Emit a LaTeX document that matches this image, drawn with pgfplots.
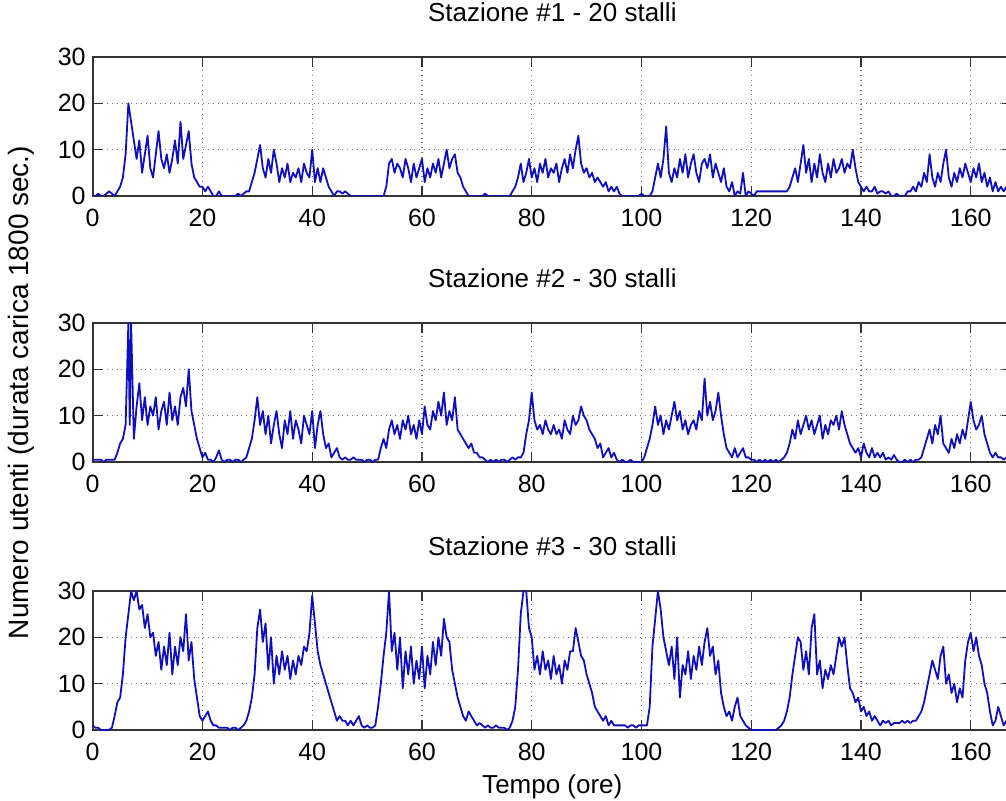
\documentclass[border=0pt]{standalone}
\usepackage{fontspec}
\setmainfont{Liberation Sans}
\usepackage{pgfplots}
\pgfplotsset{compat=1.18}
\pgfplotsset{
 stz/.style={
  scale only axis, width=459.6pt, height=69.5pt,
  xmin=0, xmax=167.5, ymin=0, ymax=30,
  xtick={0,20,...,160}, ytick={0,10,20,30},
  tick align=inside, tick pos=both, major tick length=5pt,
  grid=major, grid style={dotted, black!55, line width=0.6pt},
  axis line style={black!80, line width=0.9pt},
  every tick/.style={black!80, line width=0.6pt},
  tick label style={font=\fontsize{12.5}{15}\selectfont},
  /pgf/number format/assume math mode=true,
  xticklabel style={yshift=-3pt},
  title style={font=\fontsize{13}{15}\selectfont, at={(axis description cs:0.5,1.1655)}, anchor=base},
  anchor=north west,
 },
 ser/.style={color={rgb,255:red,15;green,15;blue,190}, line width=0.9pt, mark=none, line join=round}
}
\begin{document}
\begin{tikzpicture}
\begin{axis}[stz, at={(0,0)}, title={Stazione \#1 - 20 stalli}]
\addplot[ser] coordinates {
(0,0)(0.5,0)(1,0.5)(1.5,0)(2,0)(2.5,0.5)(3,1)(3.5,0.5)(4,0)(4.5,1)(5,2)(5.5,4)(6,9)(6.5,20)(7,16)(7.5,12)(8,8)(8.5,12)(9,5)(9.5,9)(10,13)(10.5,6)(11,4)(11.5,9)(12,14)(12.5,8)(13,6)(13.5,9)(14,5)(14.5,8)(15,12)(15.5,7)(16,16)(16.5,8)(17,11)(17.5,14)(18,7)(18.5,4)(19,3)(19.5,2)(20,2)(20.5,1)(21,2)(21.5,1)(22,0)(22.5,0)(23,1)(23.5,0)
(24,0)(24.5,0)(25,0)(25.5,0)(26,0)(26.5,0.5)(27,0)(27.5,0.5)(28,1)(28.5,1)(29,3)(29.5,5)(30,8)(30.5,11)(31,6)(31.5,4)(32,8)(32.5,5)(33,10)(33.5,7)(34,3)(34.5,6)(35,4)(35.5,7)(36,3)(36.5,5)(37,4)(37.5,6)(38,3)(38.5,7)(39,5)(39.5,4)(40,10)(40.5,3)(41,6)(41.5,3)(42,6)(42.5,4)(43,2)(43.5,1)(44,0)(44.5,1)(45,1)(45.5,0.5)(46,1)(46.5,0.5)(47,0)(47.5,0)
(48,0)(48.5,0)(49,0)(49.5,0)(50,0)(50.5,0)(51,0)(51.5,0)(52,0)(52.5,0)(53,0)(53.5,2)(54,7)(54.5,8)(55,5)(55.5,7)(56,6)(56.5,4)(57,8)(57.5,6)(58,3)(58.5,7)(59,4)(59.5,6)(60,8)(60.5,3)(61,6)(61.5,4)(62,7)(62.5,5)(63,8)(63.5,4)(64,7)(64.5,10)(65,6)(65.5,8)(66,9)(66.5,5)(67,4)(67.5,2)(68,1)(68.5,0)(69,0)(69.5,0)(70,0)(70.5,0)(71,0)(71.5,0.5)
(72,0)(72.5,0)(73,0)(73.5,0)(74,0)(74.5,0)(75,0)(75.5,0)(76,0)(76.5,1)(77,2)(77.5,4)(78,7)(78.5,3)(79,5)(79.5,8)(80,4)(80.5,6)(81,3)(81.5,7)(82,5)(82.5,8)(83,4)(83.5,6)(84,5)(84.5,7)(85,3)(85.5,6)(86,8)(86.5,5)(87,9)(87.5,6)(88,10)(88.5,13)(89,7)(89.5,5)(90,6)(90.5,4)(91,5)(91.5,3)(92,4)(92.5,3)(93,2)(93.5,3)(94,1)(94.5,2)(95,1)(95.5,2)
(96,0.5)(96.5,0)(97,0)(97.5,0)(98,0)(98.5,0)(99,0)(99.5,0)(100,0.5)(100.5,0)(101,0)(101.5,0)(102,1)(102.5,4)(103,7)(103.5,4)(104,8)(104.5,15)(105,5)(105.5,3)(106,6)(106.5,4)(107,8)(107.5,5)(108,9)(108.5,4)(109,7)(109.5,9)(110,5)(110.5,3)(111,7)(111.5,8)(112,6)(112.5,9)(113,4)(113.5,7)(114,5)(114.5,3)(115,6)(115.5,2)(116,1)(116.5,3)(117,0)(117.5,1)(118,0.5)(118.5,5)(119,0)(119.5,1)
(120,0.5)(120.5,0)(121,1)(121.5,1)(122,1)(122.5,1)(123,1)(123.5,1)(124,1)(124.5,1)(125,1)(125.5,1)(126,1)(126.5,1)(127,2)(127.5,4)(128,6)(128.5,3)(129,7)(129.5,11)(130,5)(130.5,8)(131,3)(131.5,7)(132,4)(132.5,9)(133,5)(133.5,3)(134,7)(134.5,4)(135,8)(135.5,5)(136,6)(136.5,8)(137,5)(137.5,7)(138,6)(138.5,10)(139,6)(139.5,3)(140,2)(140.5,1)(141,2)(141.5,1)(142,1)(142.5,2)(143,0.5)(143.5,1)
(144,1)(144.5,0.5)(145,1)(145.5,0)(146,0)(146.5,0.5)(147,0)(147.5,0)(148,0)(148.5,1)(149,1)(149.5,2)(150,1)(150.5,3)(151,2)(151.5,5)(152,3)(152.5,9)(153,4)(153.5,2)(154,5)(154.5,3)(155,7)(155.5,10)(156,4)(156.5,2)(157,5)(157.5,3)(158,6)(158.5,4)(159,7)(159.5,5)(160,3)(160.5,6)(161,4)(161.5,7)(162,3)(162.5,5)(163,2)(163.5,4)(164,1)(164.5,3)(165,1)(165.5,2)(166,1)(166.5,2)(167,1)(167.5,0.5)(168,1)
};
\end{axis}
\begin{axis}[stz, at={(0,-133pt)}, title={Stazione \#2 - 30 stalli},
  ylabel={Numero utenti (durata carica 1800 sec.)},
  ylabel style={font=\fontsize{14}{16}\selectfont, at={(axis description cs:-0.0772,0.5)}, anchor=center}]
\addplot[ser] coordinates {
(0,0.5)(0.5,0.5)(1,0.5)(1.5,0.5)(2,0)(2.5,0.5)(3,0.5)(3.5,0.5)(4,0.5)(4.5,2)(5,4)(5.5,5)(6,8)(6.5,30)(6.75,8)(7,30)(7.5,5)(8,12)(8.5,17)(9,9)(9.5,14)(10,8)(10.5,12)(11,10)(11.5,14)(12,7)(12.5,11)(13,13)(13.5,8)(14,15)(14.5,9)(15,12)(15.5,8)(16,14)(16.5,16)(17,12)(17.5,20)(18,11)(18.5,8)(19,5)(19.5,3)(20,1)(20.5,2)(21,0.5)(21.5,0.5)(22,0)(22.5,1)(23,2.5)(23.5,0.5)
(24,0)(24.5,0.5)(25,0.5)(25.5,0)(26,0.5)(26.5,0.5)(27,0)(27.5,0.5)(28,1)(28.5,3)(29,5)(29.5,9)(30,14)(30.5,8)(31,11)(31.5,6)(32,10)(32.5,4)(33,8)(33.5,11)(34,6)(34.5,3)(35,9)(35.5,6)(36,11)(36.5,5)(37,9)(37.5,7)(38,4)(38.5,10)(39,8)(39.5,6)(40,11)(40.5,3)(41,8)(41.5,11)(42,6)(42.5,3)(43,4)(43.5,1)(44,2)(44.5,3)(45,1)(45.5,0.5)(46,1)(46.5,0.5)(47,0.5)(47.5,1)
(48,0.5)(48.5,0.5)(49,0.5)(49.5,0)(50,0.5)(50.5,0.5)(51,0)(51.5,0.5)(52,0.5)(52.5,3)(53,5)(53.5,3)(54,7)(54.5,9)(55,6)(55.5,8)(56,5)(56.5,9)(57,7)(57.5,10)(58,6)(58.5,8)(59,5)(59.5,9)(60,6)(60.5,12)(61,8)(61.5,7)(62,11)(62.5,9)(63,13)(63.5,10)(64,15)(64.5,8)(65,11)(65.5,9)(66,14)(66.5,7)(67,6)(67.5,5)(68,4)(68.5,3)(69,4)(69.5,2)(70,2)(70.5,1)(71,1)(71.5,0.5)
(72,0)(72.5,0.5)(73,0)(73.5,0.5)(74,0)(74.5,0.5)(75,0.5)(75.5,0)(76,0.5)(76.5,1)(77,0.5)(77.5,1)(78,1)(78.5,2)(79,6)(79.5,9)(80,15)(80.5,9)(81,7)(81.5,8)(82,6)(82.5,9)(83,7)(83.5,6)(84,8)(84.5,6)(85,7)(85.5,5)(86,9)(86.5,7)(87,6)(87.5,10)(88,8)(88.5,9)(89,12)(89.5,10)(90,9)(90.5,7)(91,6)(91.5,5)(92,3)(92.5,4)(93,1)(93.5,2)(94,3)(94.5,1)(95,2)(95.5,0.5)
(96,0)(96.5,0.5)(97,0)(97.5,0)(98,0.5)(98.5,0)(99,0)(99.5,0)(100,0)(100.5,1)(101,3)(101.5,5)(102,8)(102.5,12)(103,8)(103.5,10)(104,6)(104.5,9)(105,7)(105.5,10)(106,13)(106.5,9)(107,11)(107.5,7)(108,9)(108.5,6)(109,8)(109.5,9)(110,7)(110.5,11)(111,9)(111.5,18)(112,10)(112.5,13)(113,9)(113.5,11)(114,15)(114.5,10)(115,6)(115.5,3)(116,2)(116.5,1)(117,3)(117.5,1)(118,2)(118.5,3)(119,1)(119.5,1)
(120,0.5)(120.5,0.5)(121,0)(121.5,0.5)(122,0)(122.5,0.5)(123,0)(123.5,0.5)(124,0)(124.5,0.5)(125,0)(125.5,0.5)(126,1)(126.5,2)(127,4)(127.5,7)(128,5)(128.5,9)(129,6)(129.5,8)(130,10)(130.5,7)(131,9)(131.5,6)(132,8)(132.5,10)(133,5)(133.5,8)(134,6)(134.5,9)(135,8)(135.5,10)(136,7)(136.5,11)(137,8)(137.5,6)(138,4)(138.5,3)(139,2)(139.5,3)(140,1)(140.5,4)(141,2)(141.5,1)(142,3)(142.5,1)(143,2)(143.5,1)
(144,2)(144.5,0.5)(145,1)(145.5,0.5)(146,1.5)(146.5,0.5)(147,0)(147.5,0)(148,0.5)(148.5,0)(149,0.5)(149.5,0)(150,0.5)(150.5,0.5)(151,1)(151.5,3)(152,5)(152.5,7)(153,4)(153.5,8)(154,6)(154.5,10)(155,4)(155.5,3)(156,2)(156.5,5)(157,3)(157.5,6)(158,4)(158.5,7)(159,5)(159.5,9)(160,13)(160.5,9)(161,7)(161.5,8)(162,10)(162.5,6)(163,4)(163.5,2)(164,1)(164.5,2)(165,1)(165.5,1)(166,0.5)(166.5,1)(167,0.5)(167.5,1)(168,0.5)
};
\end{axis}
\begin{axis}[stz, at={(0,-267pt)}, title={Stazione \#3 - 30 stalli},
  xlabel={Tempo (ore)},
  xlabel style={font=\fontsize{13}{15}\selectfont, at={(axis description cs:0.5,-0.4532)}, anchor=base}]
\addplot[ser] coordinates {
(0,1)(0.5,0.5)(1,0.5)(1.5,0)(2,0)(2.5,0)(3,0)(3.5,0.5)(4,3)(4.5,6)(5,7)(5.5,12)(6,20)(6.5,25)(7,30)(7.5,28)(8,30)(8.5,26)(9,27)(9.5,22)(10,25)(10.5,20)(11,21)(11.5,16)(12,19)(12.5,13)(13,18)(13.5,14)(14,21)(14.5,12)(15,18)(15.5,14)(16,20)(16.5,17)(17,25)(17.5,15)(18,19)(18.5,11)(19,7)(19.5,3)(20,2)(20.5,3)(21,4)(21.5,2)(22,1)(22.5,1)(23,0.5)(23.5,0.5)
(24,0.5)(24.5,0.5)(25,0)(25.5,0.5)(26,0.5)(26.5,0)(27,0.5)(27.5,1)(28,2)(28.5,4)(29,7)(29.5,12)(30,22)(30.5,26)(31,19)(31.5,23)(32,13)(32.5,20)(33,10)(33.5,16)(34,12)(34.5,17)(35,13)(35.5,16)(36,11)(36.5,15)(37,12)(37.5,16)(38,14)(38.5,18)(39,17)(39.5,21)(40,29)(40.5,23)(41,17)(41.5,14)(42,12)(42.5,10)(43,8)(43.5,6)(44,4)(44.5,2)(45,3)(45.5,2)(46,2)(46.5,1)(47,2)(47.5,1)
(48,2)(48.5,3)(49,1)(49.5,0.5)(50,1)(50.5,0.5)(51,0.5)(51.5,1)(52,5)(52.5,10)(53,16)(53.5,21)(54,30)(54.5,17)(55,21)(55.5,13)(56,20)(56.5,9)(57,17)(57.5,12)(58,18)(58.5,10)(59,15)(59.5,11)(60,18)(60.5,9)(61,16)(61.5,12)(62,19)(62.5,14)(63,20)(63.5,16)(64,24)(64.5,20)(65,19)(65.5,13)(66,10)(66.5,7)(67,5)(67.5,3)(68,2)(68.5,4)(69,3)(69.5,2)(70,1)(70.5,1.5)(71,1)(71.5,0.5)
(72,1)(72.5,0.5)(73,0.5)(73.5,1)(74,0.5)(74.5,0.5)(75,0.5)(75.5,0)(76,0.5)(76.5,2)(77,5)(77.5,13)(78,25)(78.5,30)(79,30)(79.5,22)(80,20)(80.5,13)(81,16)(81.5,12)(82,17)(82.5,13)(83,15)(83.5,11)(84,16)(84.5,12)(85,14)(85.5,10)(86,15)(86.5,13)(87,17)(87.5,17)(88,22)(88.5,19)(89,16)(89.5,15)(90,12)(90.5,10)(91,8)(91.5,5)(92,4)(92.5,3)(93,2)(93.5,3)(94,1)(94.5,2)(95,1)(95.5,1)
(96,1)(96.5,1)(97,1)(97.5,0.5)(98,1)(98.5,1)(99,0.5)(99.5,1)(100,1)(100.5,1)(101,1)(101.5,5)(102,18)(102.5,24)(103,30)(103.5,26)(104,20)(104.5,17)(105,14)(105.5,18)(106,11)(106.5,20)(107,7)(107.5,14)(108,12)(108.5,17)(109,11)(109.5,16)(110,13)(110.5,18)(111,14)(111.5,19)(112,22)(112.5,16)(113,18)(113.5,12)(114,15)(114.5,8)(115,5)(115.5,3)(116,4)(116.5,2)(117,5)(117.5,7)(118,3)(118.5,2)(119,1)(119.5,0.5)
(120,0)(120.5,0)(121,0)(121.5,0)(122,0)(122.5,0)(123,0)(123.5,0)(124,0)(124.5,0)(125,0.5)(125.5,1)(126,2)(126.5,4)(127,7)(127.5,12)(128,16)(128.5,20)(129,19)(129.5,13)(130,17)(130.5,12)(131,22)(131.5,25)(132,12)(132.5,15)(133,9)(133.5,13)(134,11)(134.5,14)(135,12)(135.5,16)(136,20)(136.5,18)(137,20)(137.5,14)(138,9)(138.5,8)(139,6)(139.5,7)(140,4)(140.5,5)(141,3)(141.5,4)(142,2)(142.5,3)(143,2)(143.5,1)
(144,2)(144.5,1.5)(145,2)(145.5,1)(146,1.5)(146.5,1.5)(147,1.5)(147.5,2)(148,1.5)(148.5,2)(149,1.5)(149.5,2)(150,2)(150.5,3)(151,4)(151.5,6)(152,9)(152.5,12)(153,15)(153.5,13)(154,11)(154.5,16)(155,18)(155.5,10)(156,12)(156.5,8)(157,10)(157.5,6)(158,9)(158.5,7)(159,15)(159.5,19)(160,21)(160.5,17)(161,20)(161.5,16)(162,14)(162.5,10)(163,8)(163.5,4)(164,1)(164.5,2)(165,5)(165.5,3)(166,1)(166.5,2)(167,1)(167.5,1)(168,1)
};
\end{axis}
\pgfresetboundingbox
\useasboundingbox (-46.35pt,-372pt) rectangle (456.65pt,28.5pt);
\end{tikzpicture}
\end{document}
